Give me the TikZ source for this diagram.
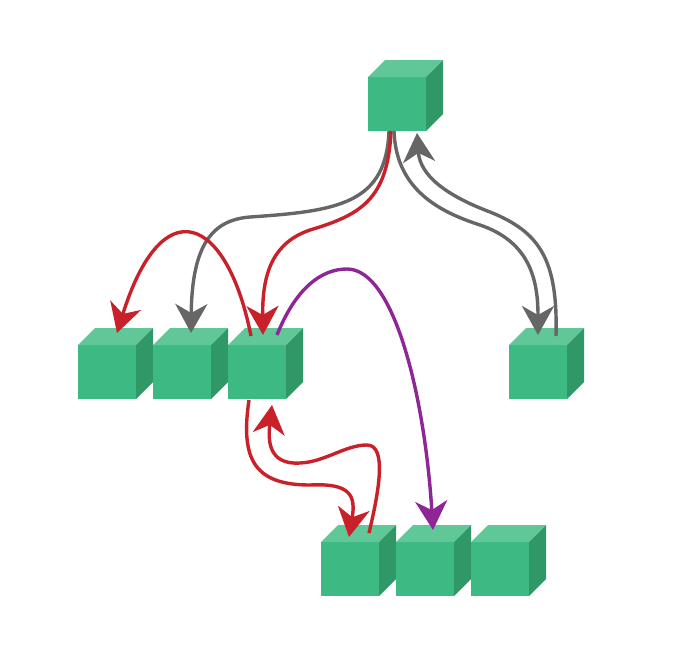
\documentclass[tikz,border=0pt]{standalone}
\usetikzlibrary{arrows.meta,calc}
\definecolor{cfront}{HTML}{3DBA84}
\definecolor{ctop}{HTML}{60C798}
\definecolor{cside}{HTML}{2F9866}
\definecolor{cgray}{HTML}{666666}
\definecolor{cred}{HTML}{C8212A}
\definecolor{cpurple}{HTML}{8E2795}
\begin{document}
\begin{tikzpicture}[x=1pt,y=-1pt,
  cubefront/.style={fill=cfront, minimum width=58pt, minimum height=54pt, inner sep=0pt, outer sep=0pt},
  conn/.style={line width=3.4pt, -{Stealth[length=29pt,width=32pt,inset=9pt]}},
  grayconn/.style={conn, draw=cgray},
  redconn/.style={conn, draw=cred},
  purpleconn/.style={conn, draw=cpurple}]
\useasboundingbox (0,0) rectangle (679,664);
\fill[white] (0,0) rectangle (679,664);
\foreach \n/\x/\y in {top/397/104, m1/107/372, m2/182/372, m3/257/372, r/538/372, b1/350/569, b2/425/569, b3/500/569} {
  \node[cubefront] (\n) at (\x,\y) {};
  \fill[ctop] (\n.north west) -- ++(17,-17) -- ++(58,0) -- (\n.north east) -- cycle;
  \fill[cside] (\n.north east) -- ++(17,-17) -- ++(0,54) -- (\n.south east) -- cycle;
}
% top to m2 (gray)
\draw[grayconn] ([xshift=-8pt]top.south) .. controls +(-3,72) and (340,211) .. (250,217)
  .. controls (212,220) and (192,245) .. ($(m2.north)+(9,-12)$);
% top to m3 (red)
\draw[redconn] ([xshift=-6pt]top.south) .. controls +(-3,69) and (360,215) .. (310,230)
  .. controls (275,242) and (262,270) .. ($(m3.north)+(6,-10)$);
% top to r (gray)
\draw[grayconn] ([xshift=-3pt]top.south) .. controls +(2,59) and (440,212) .. (480,225)
  .. controls (530,242) and (538,280) .. ($(r.north)+(0,-10)$);
% r to top (gray)
\draw[grayconn] ($(r.north)+(18,-9)$) .. controls +(2,-76) and (540,232) .. (490,212)
  .. controls (445,195) and (420,175) .. ($(top.south)+(20,2)$);
% m3 to m1 (red arc)
\draw[redconn] ($(m3.north)+(-6,-9)$) .. controls (227,215) and (162,188) .. ($(m1.north)+(10,-12)$);
% m3 to b2 (purple)
\draw[purpleconn] ($(m3.north)+(20,-10)$) .. controls (295,290) and (320,269) .. (347,269)
  .. controls (395,269) and (425,400) .. ($(b2.north)+(8,-12)$);
% m3 to b1 (red)
\draw[redconn] ($(m3.south)+(-8,1)$) .. controls (240,460) and (255,485) .. (310,485)
  .. controls (350,483) and (356,495) .. ($(b1.north)+(-1,-5)$);
% b1 to m3 (red)
\draw[redconn] ($(b1.north)+(19,-9)$) .. controls (378,495) and (388,445) .. (367,445)
  .. controls (345,445) and (325,462) .. (300,463)
  .. controls (268,465) and (268,440) .. ($(m3.south)+(15,6)$);
\end{tikzpicture}
\end{document}
